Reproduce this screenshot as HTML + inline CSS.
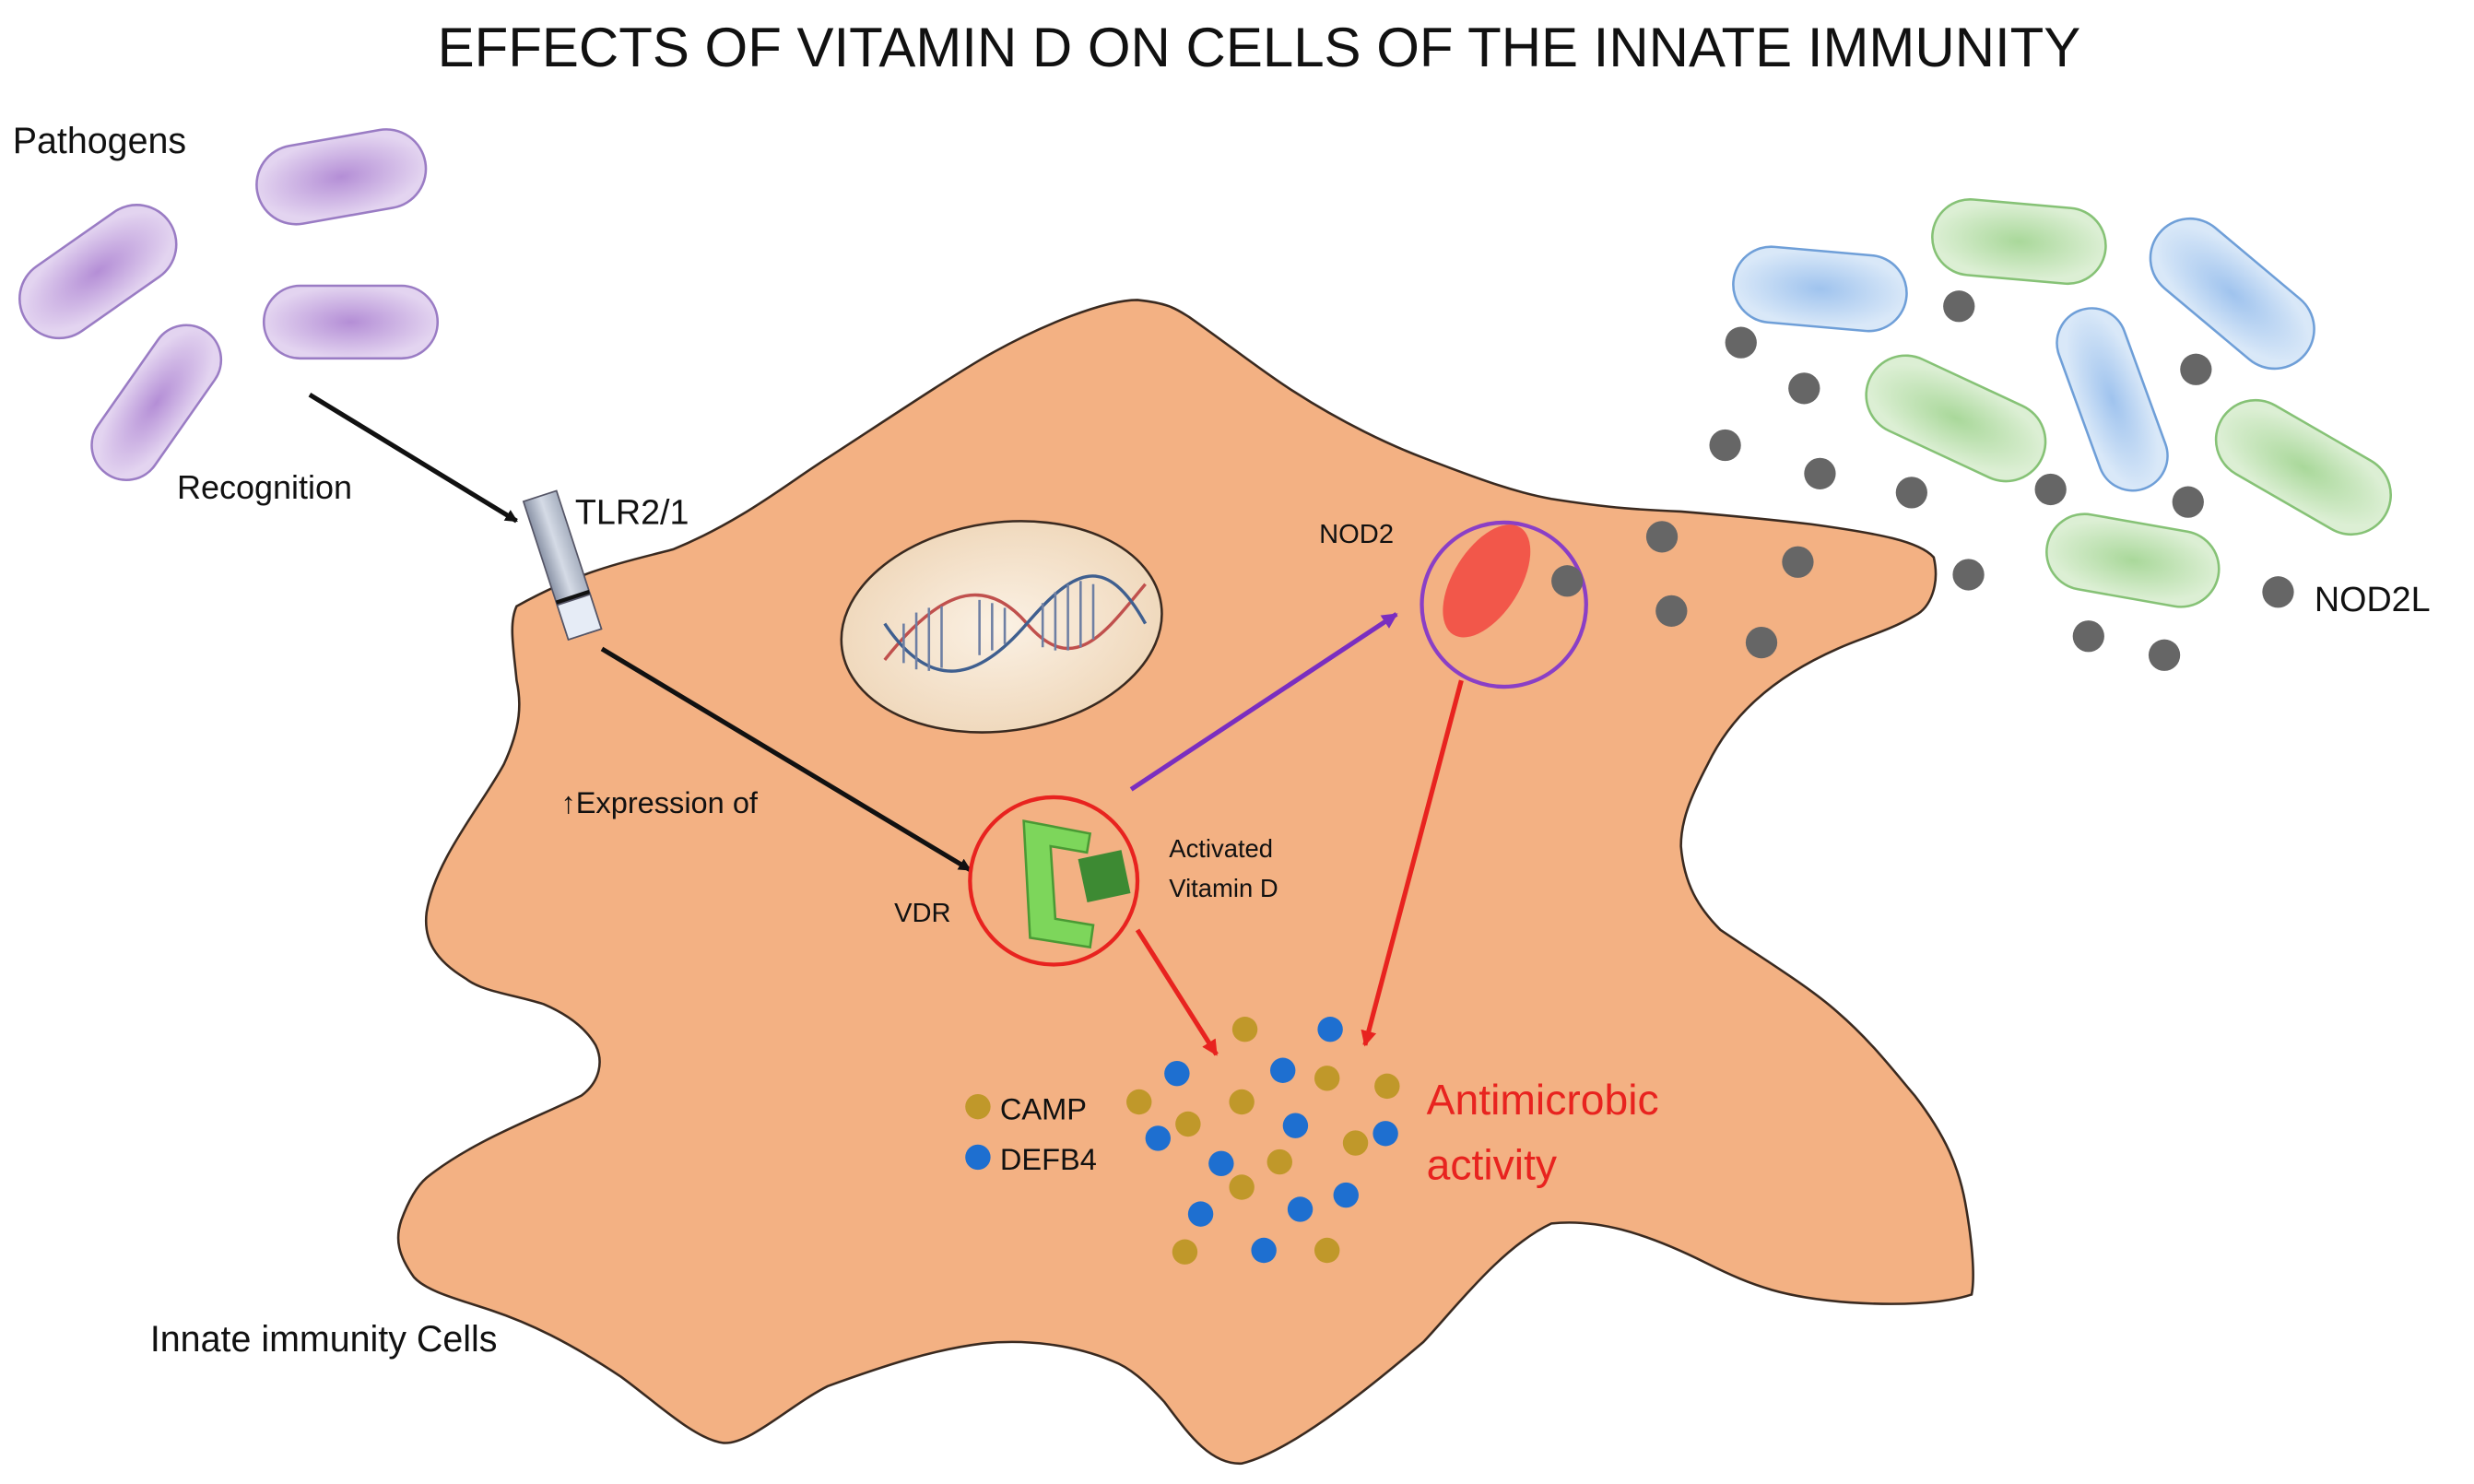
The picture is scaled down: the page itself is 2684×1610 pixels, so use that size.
<!DOCTYPE html>
<html><head><meta charset="utf-8"><style>html,body{margin:0;padding:0;background:#fff}svg{display:block}</style></head>
<body>
<svg width="2684" height="1610" viewBox="0 0 1566 940" preserveAspectRatio="none" xmlns="http://www.w3.org/2000/svg" font-family="Liberation Sans, sans-serif">
<defs>
<radialGradient id="pu"><stop offset="0" stop-color="#b48ed6"/><stop offset="1" stop-color="#e3d4f0"/></radialGradient>
<radialGradient id="bl"><stop offset="0" stop-color="#9fc3ee"/><stop offset="1" stop-color="#d9e8f8"/></radialGradient>
<radialGradient id="gr"><stop offset="0" stop-color="#a9d89a"/><stop offset="1" stop-color="#dcefd4"/></radialGradient>
<radialGradient id="nu"><stop offset="0" stop-color="#fbf1e4"/><stop offset="1" stop-color="#f0d9bd"/></radialGradient>
<linearGradient id="tl" x1="0" x2="1"><stop offset="0" stop-color="#8a93a6"/><stop offset="0.5" stop-color="#d5dbe6"/><stop offset="1" stop-color="#a7b0c0"/></linearGradient>
<marker id="ak" markerWidth="8" markerHeight="8" refX="7" refY="4" orient="auto" markerUnits="userSpaceOnUse"><path d="M0,0 L8,4 L0,8z" fill="#111"/></marker>
<marker id="ar" markerWidth="10" markerHeight="10" refX="9" refY="5" orient="auto" markerUnits="userSpaceOnUse"><path d="M0,0 L10,5 L0,10z" fill="#e8231f"/></marker>
<marker id="ap" markerWidth="10" markerHeight="10" refX="9" refY="5" orient="auto" markerUnits="userSpaceOnUse"><path d="M0,0 L10,5 L0,10z" fill="#7a2ec0"/></marker>
</defs>
<text x="797" y="42" font-size="35" text-anchor="middle" fill="#111">EFFECTS OF VITAMIN D ON CELLS OF THE INNATE IMMUNITY</text>
<text x="8" y="97" font-size="23" fill="#111">Pathogens</text>
<g stroke="#9a7cc4" stroke-width="1.5" fill="url(#pu)">
<rect x="-55" y="-25" width="110" height="50" rx="25" transform="translate(62,172) rotate(-35)"/>
<rect x="-54" y="-25" width="108" height="50" rx="25" transform="translate(216,112) rotate(-10)"/>
<rect x="-55" y="-23" width="110" height="46" rx="23" transform="translate(222,204)"/>
<rect x="-55" y="-22" width="110" height="44" rx="22" transform="translate(99,255) rotate(-55)"/>
</g>
<g stroke-width="1.5">
<rect x="-55" y="-24" width="110" height="48" rx="24" transform="translate(1152,183) rotate(5)" fill="url(#bl)" stroke="#6f9fd8"/>
<rect x="-60" y="-25" width="120" height="50" rx="25" transform="translate(1413,186) rotate(40)" fill="url(#bl)" stroke="#6f9fd8"/>
<rect x="-60" y="-22" width="120" height="44" rx="22" transform="translate(1337,253) rotate(70)" fill="url(#bl)" stroke="#6f9fd8"/>
<rect x="-55" y="-24" width="110" height="48" rx="24" transform="translate(1278,153) rotate(5)" fill="url(#gr)" stroke="#86c276"/>
<rect x="-60" y="-25" width="120" height="50" rx="25" transform="translate(1238,265) rotate(25)" fill="url(#gr)" stroke="#86c276"/>
<rect x="-60" y="-25" width="120" height="50" rx="25" transform="translate(1458,296) rotate(30)" fill="url(#gr)" stroke="#86c276"/>
<rect x="-55" y="-24" width="110" height="48" rx="24" transform="translate(1350,355) rotate(10)" fill="url(#gr)" stroke="#86c276"/>
</g>
<path d="M327,384 C370,360 400,355 426,348 C470,330 500,305 524,290 C570,260 600,240 622,227 C660,205 700,190 720,190 C740,192 745,196 753,201 C780,220 800,236 819,248 C850,268 880,282 901,290 C940,305 960,312 982,316 C1020,322 1040,323 1064,324 C1100,327 1120,329 1146,332 C1190,338 1215,343 1224,353 C1228,370 1222,385 1212,390 C1195,400 1178,404 1163,411 C1120,430 1095,455 1081,484 C1070,505 1064,520 1064,536 C1066,560 1075,575 1089,589 C1120,610 1145,625 1163,641 C1185,660 1200,680 1212,694 C1232,720 1240,740 1244,762 C1249,790 1250,810 1248,820 C1230,826 1200,827 1171,825 C1130,822 1110,815 1080,800 C1040,780 1010,772 982,775 C950,790 920,830 901,850 C860,885 815,920 786,927 C765,928 750,905 737,888 C725,875 715,866 704,862 C680,852 650,848 622,851 C590,855 560,865 524,878 C500,890 475,915 458,914 C440,912 415,888 393,872 C360,850 335,838 311,830 C290,823 270,818 262,809 C252,795 250,785 254,773 C258,762 263,752 270,746 C300,722 340,708 368,694 C380,685 382,672 377,662 C370,650 358,642 344,636 C325,630 305,628 295,620 C275,608 268,595 270,578 C275,545 305,510 319,484 C330,460 330,445 327,431 C325,410 322,395 327,384 Z" fill="#f3b183" stroke="#3a2a20" stroke-width="1.5"/>
<ellipse cx="634" cy="397" rx="102" ry="66" transform="rotate(-8 634 397)" fill="url(#nu)" stroke="#3a2a20" stroke-width="1.5"/>
<g fill="none" stroke-width="2">
<path d="M560,418 C590,380 620,360 650,395 C680,430 700,400 725,370" stroke="#c0504d"/>
<path d="M560,395 C590,440 620,430 650,395 C680,360 700,350 725,395" stroke="#3f5f8f"/>
<g stroke="#6e7fa3" stroke-width="1.5">
<line x1="572" y1="395" x2="572" y2="420"/><line x1="580" y1="388" x2="580" y2="424"/><line x1="588" y1="385" x2="588" y2="425"/><line x1="596" y1="384" x2="596" y2="423"/>
<line x1="620" y1="380" x2="620" y2="415"/><line x1="628" y1="382" x2="628" y2="412"/><line x1="636" y1="385" x2="636" y2="408"/>
<line x1="660" y1="382" x2="660" y2="410"/><line x1="668" y1="375" x2="668" y2="412"/><line x1="676" y1="370" x2="676" y2="412"/><line x1="684" y1="368" x2="684" y2="410"/><line x1="692" y1="370" x2="692" y2="405"/>
</g></g>
<g transform="translate(356,358) rotate(-18)">
<rect x="-11" y="-46" width="22" height="92" fill="url(#tl)" stroke="#556" stroke-width="1"/>
<rect x="-11" y="20" width="22" height="3" fill="#111"/>
<rect x="-11" y="23" width="22" height="23" fill="#e6ecf6" stroke="#556" stroke-width="1"/>
</g>
<text x="364" y="332" font-size="22" fill="#111">TLR2/1</text>
<text x="112" y="316" font-size="21" fill="#111">Recognition</text>
<line x1="196" y1="250" x2="327" y2="330" stroke="#111" stroke-width="3" marker-end="url(#ak)"/>
<line x1="381" y1="411" x2="614" y2="551" stroke="#111" stroke-width="3" marker-end="url(#ak)"/>
<text x="355" y="515" font-size="19" fill="#111">↑Expression of</text>
<circle cx="667" cy="558" r="53" fill="none" stroke="#e8231f" stroke-width="2.5"/>
<path d="M648,520 L690,528 L688,540 L665,536 L668,582 L692,586 L690,600 L652,594 Z" fill="#7dd65b" stroke="#4a9a34" stroke-width="1.5"/>
<rect x="685" y="541" width="28" height="28" fill="#3d8a33" transform="rotate(-12 699 555)"/>
<text x="566" y="584" font-size="17" fill="#111">VDR</text>
<text x="740" y="543" font-size="16" fill="#111">Activated</text>
<text x="740" y="568" font-size="16" fill="#111">Vitamin D</text>
<circle cx="952" cy="383" r="52" fill="none" stroke="#8a3fc6" stroke-width="2.5"/>
<ellipse cx="941" cy="368" rx="21" ry="40" transform="rotate(32 941 368)" fill="#f2574a"/>
<text x="835" y="344" font-size="17" fill="#111">NOD2</text>
<line x1="716" y1="500" x2="884" y2="389" stroke="#7a2ec0" stroke-width="3" marker-end="url(#ap)"/>
<line x1="720" y1="589" x2="770" y2="668" stroke="#e8231f" stroke-width="3" marker-end="url(#ar)"/>
<line x1="925" y1="431" x2="864" y2="662" stroke="#e8231f" stroke-width="3" marker-end="url(#ar)"/>
<g fill="#666">
<circle cx="992" cy="368" r="10"/><circle cx="1052" cy="340" r="10"/><circle cx="1058" cy="387" r="10"/><circle cx="1138" cy="356" r="10"/><circle cx="1115" cy="407" r="10"/>
<circle cx="1102" cy="217" r="10"/><circle cx="1142" cy="246" r="10"/><circle cx="1092" cy="282" r="10"/><circle cx="1152" cy="300" r="10"/><circle cx="1210" cy="312" r="10"/><circle cx="1240" cy="194" r="10"/><circle cx="1298" cy="310" r="10"/><circle cx="1390" cy="234" r="10"/><circle cx="1385" cy="318" r="10"/><circle cx="1246" cy="364" r="10"/><circle cx="1442" cy="375" r="10"/><circle cx="1322" cy="403" r="10"/><circle cx="1370" cy="415" r="10"/>
</g>
<text x="1465" y="387" font-size="22" fill="#111">NOD2L</text>
<g fill="#c0982a">
<circle cx="619" cy="701" r="8"/><circle cx="788" cy="652" r="8"/><circle cx="840" cy="683" r="8"/><circle cx="878" cy="688" r="8"/><circle cx="786" cy="698" r="8"/><circle cx="752" cy="712" r="8"/><circle cx="721" cy="698" r="8"/><circle cx="810" cy="736" r="8"/><circle cx="858" cy="724" r="8"/><circle cx="786" cy="752" r="8"/><circle cx="750" cy="793" r="8"/><circle cx="840" cy="792" r="8"/>
</g>
<g fill="#1e6fd0">
<circle cx="619" cy="733" r="8"/><circle cx="842" cy="652" r="8"/><circle cx="745" cy="680" r="8"/><circle cx="812" cy="678" r="8"/><circle cx="733" cy="721" r="8"/><circle cx="820" cy="713" r="8"/><circle cx="877" cy="718" r="8"/><circle cx="773" cy="737" r="8"/><circle cx="852" cy="757" r="8"/><circle cx="760" cy="769" r="8"/><circle cx="823" cy="766" r="8"/><circle cx="800" cy="792" r="8"/>
</g>
<text x="633" y="709" font-size="19" fill="#111">CAMP</text>
<text x="633" y="741" font-size="19" fill="#111">DEFB4</text>
<text x="903" y="706" font-size="27" fill="#e8231f">Antimicrobic</text>
<text x="903" y="747" font-size="27" fill="#e8231f">activity</text>
<text x="95" y="856" font-size="23" fill="#111">Innate immunity Cells</text>
</svg>
</body></html>
